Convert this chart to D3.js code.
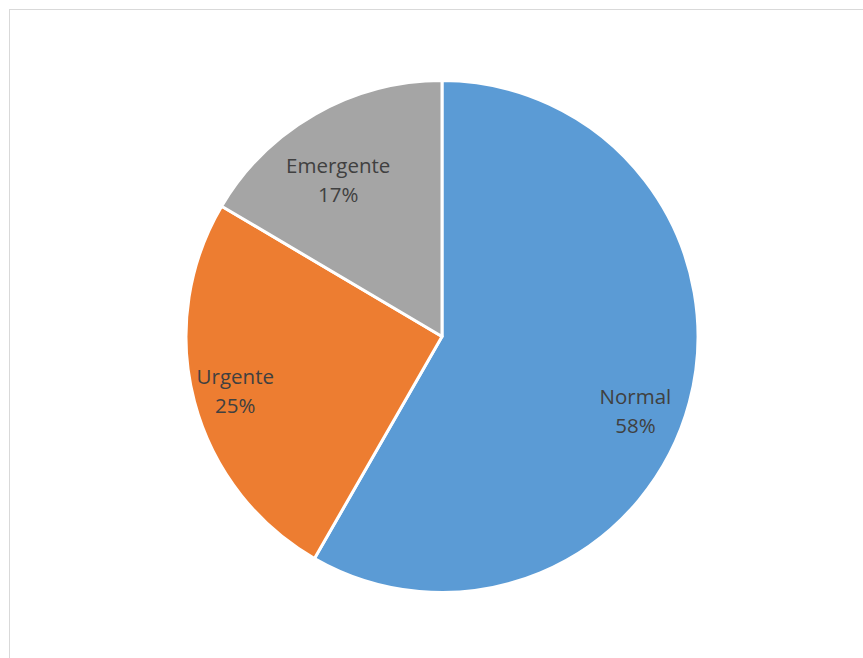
<!DOCTYPE html>
<html>
<head>
<meta charset="utf-8">
<script src="https://cdn.jsdelivr.net/npm/d3@7"></script>
<style>
  body { margin: 0; background: #fff; }
  svg { display: block; }
</style>
</head>
<body>
<svg id="chart" width="863" height="658"></svg>
<script>
// data
const categories = ["Normal", "Urgente", "Emergente"];
const values = [58.3, 25.2, 16.5];
const colors = ["#5b9bd5", "#ed7d31", "#a5a5a5"];
// label placement: share of the radius and a small angle nudge (degrees)
const labelRadius = [0.81, 0.835, 0.735];
const labelNudge = [6.2, 0, -3.8];

const width = 863, height = 658;
const cx = 442, cy = 336.5, radius = 256;

const svg = d3.select("#chart");

// chart frame (runs off the right and bottom edge)
svg.append("rect")
    .attr("x", 9.5).attr("y", 9.5)
    .attr("width", 900).attr("height", 700)
    .attr("fill", "#fff")
    .attr("stroke", "#d9d9d9")
    .attr("stroke-width", 1);

const pie = d3.pie().sort(null).value(d => d.value);
const arcs = pie(categories.map((c, i) => ({name: c, value: values[i], idx: i})));
const total = d3.sum(values);

const arc = d3.arc().innerRadius(0).outerRadius(radius);

const g = svg.append("g").attr("transform", "translate(" + cx + "," + cy + ")");

g.selectAll(".slice")
    .data(arcs)
    .enter()
    .append("path")
    .attr("class", "slice")
    .attr("d", arc)
    .attr("fill", d => colors[d.data.idx])
    .attr("stroke", "#fff")
    .attr("stroke-width", 3)
    .attr("stroke-linejoin", "round");

const labels = g.selectAll(".lbl")
    .data(arcs)
    .enter()
    .append("text")
    .attr("class", "lbl")
    .attr("text-anchor", "middle")
    .attr("font-family", "'Open Sans', sans-serif")
    .attr("font-size", "20.5px")
    .attr("fill", "#404040")
    .attr("transform", function(d) {
        const i = d.data.idx;
        const r = radius * labelRadius[i];
        const a = (d.startAngle + d.endAngle) / 2 + labelNudge[i] * Math.PI / 180;
        return "translate(" + (r * Math.sin(a)) + "," + (-r * Math.cos(a)) + ")";
    });

labels.append("tspan")
    .attr("x", 0).attr("dy", "-0.34em")
    .text(d => d.data.name);
labels.append("tspan")
    .attr("x", 0).attr("dy", "1.42em")
    .text(d => Math.round(d.data.value / total * 100) + "%");
</script>
</body>
</html>
